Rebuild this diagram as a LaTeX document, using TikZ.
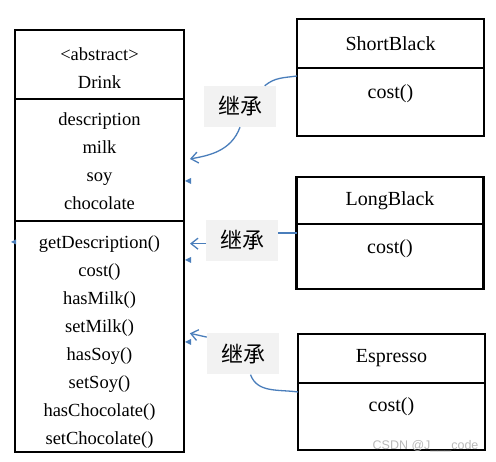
\documentclass[tikz,border=0pt]{standalone}
\usepackage{fontspec}
\setmainfont{Liberation Serif}
\setsansfont{Liberation Sans}
\newfontfamily\cjk{Noto Sans CJK SC}
\usetikzlibrary{arrows.meta,calc,positioning}
\definecolor{linkblue}{RGB}{74,126,187}
\definecolor{tagbg}{RGB}{242,242,242}

\begin{document}
\begin{tikzpicture}[
  x=1pt, y=1pt,
  font=\fontsize{18.5}{28}\selectfont,
  part/.style={draw, line width=2.5pt, minimum width=169pt, inner sep=0pt, outer sep=0pt, align=center},
  sub/.style={draw, line width=2.5pt, minimum width=187pt, inner sep=0pt, outer sep=0pt, font=\fontsize{20}{24}\selectfont},
  subtext/.style={anchor=base, font=\fontsize{20}{24}\selectfont},
  tag/.style={fill=tagbg, minimum width=72pt, minimum height=41pt, inner sep=0pt, font=\cjk\fontsize{22}{22}\selectfont},
  link/.style={linkblue, line width=1.3pt},
  linkA/.style={link, shorten >=6pt, arrows={-Straight Barb[length=7pt,width=11pt]}}
]
\useasboundingbox (0,0) rectangle (496,462);

% Abstract class Drink
\node[part, minimum height=69pt] (drinkname) at (99.5,397.5) {\rule{0pt}{21pt}<abstract>\\Drink};
\node[part, minimum height=122pt, below=0pt of drinkname] (drinkattr) {\rule{0pt}{16pt}description\\milk\\soy\\chocolate};
\node[part, minimum height=231pt, below=0pt of drinkattr] (drinkops)
  {\rule{0pt}{23pt}getDescription()\\cost()\\hasMilk()\\setMilk()\\hasSoy()\\setSoy()\\hasChocolate()\\setChocolate()};

% Concrete drinks on the right
\node[sub, minimum height=49pt] (sbname) at (390.5,418.5) {ShortBlack};
\node[sub, minimum height=68pt, below=0pt of sbname] (sbops) {};
\node[subtext] (sbcost) at ($(sbops.north)+(0,-31)$) {cost()};

\node[sub, minimum height=47pt] (lbname) at (390,261.5) {LongBlack};
\node[sub, minimum height=65pt, below=0pt of lbname] (lbops) {};
\node[subtext] (lbcost) at ($(lbops.north)+(0,-30)$) {cost()};

\node[sub, minimum height=49pt] (esname) at (391.5,103.5) {Espresso};
\node[sub, minimum height=67pt, below=0pt of esname] (esops) {};
\node[subtext] (escost) at ($(esops.north)+(0,-29)$) {cost()};

% Inheritance labels
\node[tag] (tag1) at (240,355.5) {继承};
\node[tag] (tag2) at (242,221.5) {继承};
\node[tag] (tag3) at (243,108) {继承};

% Inheritance links
\coordinate (sbin) at ($(sbops.north west)+(0,-8)$);
\coordinate (lbin) at ($(lbops.north west)+(0,-9)$);
\coordinate (esin) at ($(esops.north west)+(0,-9)$);

\draw[link] (sbin) to[out=188,in=40] (tag1);
\draw[linkA] (tag1.south) to[out=250,in=10] (drinkattr.east);

\draw[link] (lbin) -- (lbin -| tag2.east);
\draw[linkA] (tag2.185) -- (tag2.185 -| drinkops.east);

\draw[link] (esin) to[out=172,in=-70] (tag3);
\draw[linkA] (tag3.155) -- ($(drinkops.east)+(0,4.5)$);

% leftover arrow heads on the Drink box
\fill[linkblue] ($(drinkattr.east)+(1,-21)$) -- ++(6,3) -- ++(0,-6) -- cycle;
\fill[linkblue] ($(drinkops.north west)+(-4,-21)$) -- ++(5,2.5) -- ++(0,-5) -- cycle;
\fill[linkblue] ($(drinkops.north east)+(1,-39)$) -- ++(6,3) -- ++(0,-6) -- cycle;
\fill[linkblue] ($(drinkops.north east)+(1,-121)$) -- ++(6,3) -- ++(0,-6) -- cycle;

\node[anchor=east, text=gray!55, font=\sffamily\fontsize{12.5}{12.5}\selectfont] (mark) at (482,16) {CSDN @J\_\_\_code};
\end{tikzpicture}
\end{document}
